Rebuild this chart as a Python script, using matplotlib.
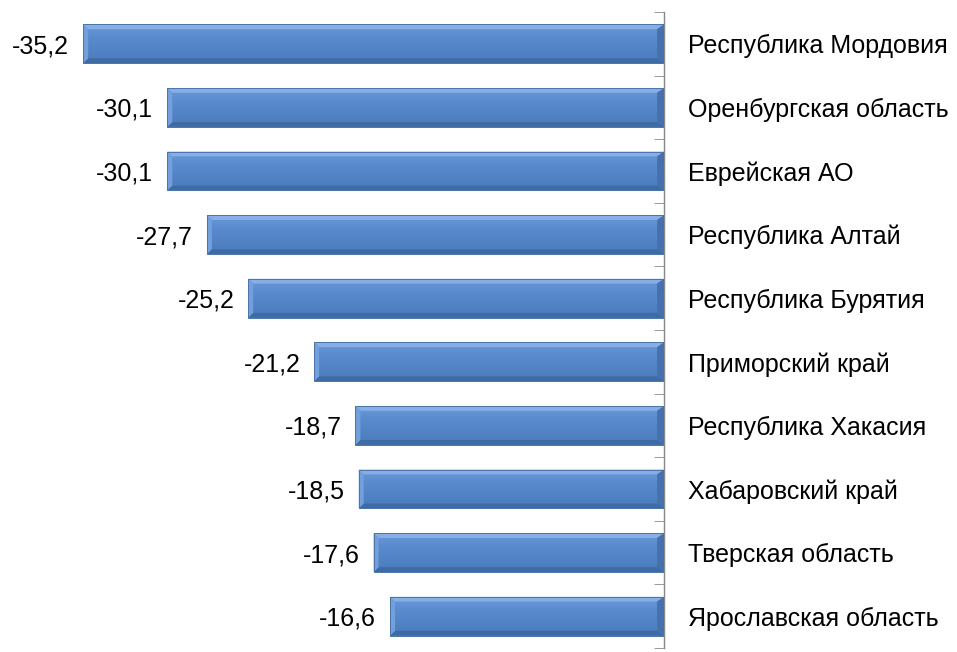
import numpy as np
import matplotlib.pyplot as plt
from matplotlib.patches import Polygon
from matplotlib.colors import LinearSegmentedColormap

regions = ['Республика Мордовия', 'Оренбургская область', 'Еврейская АО',
           'Республика Алтай', 'Республика Бурятия', 'Приморский край',
           'Республика Хакасия', 'Хабаровский край', 'Тверская область',
           'Ярославская область']
values = [-35.2, -30.1, -30.1, -27.7, -25.2, -21.2, -18.7, -18.5, -17.6, -16.6]
value_labels = ['-35,2', '-30,1', '-30,1', '-27,7', '-25,2', '-21,2', '-18,7',
                '-18,5', '-17,6', '-16,6']

plt.rcParams['font.family'] = ['Liberation Sans', 'DejaVu Sans']

def bevel(ax, x0, x1, yc, h, bl, br, by):
    # fake excel bevel: light top/left, dark bottom/right
    yt, yb = yc - h / 2, yc + h / 2   # inverted y: yt is top on screen
    out = [(x0, yt), (x1, yt), (x1, yb), (x0, yb)]
    inn = [(x0 + bl, yt + by), (x1 - br, yt + by), (x1 - br, yb - by), (x0 + bl, yb - by)]
    sides = [
        ([out[0], out[1], inn[1], inn[0]], '#86afe6'),  # top
        ([out[3], out[2], inn[2], inn[3]], '#3f6ba5'),  # bottom
        ([out[0], out[3], inn[3], inn[0]], '#72a0dc'),  # left
        ([out[1], out[2], inn[2], inn[1]], '#4572ae'),  # right
    ]
    for pts, c in sides:
        ax.add_patch(Polygon(pts, closed=True, facecolor=c, edgecolor='none', zorder=3))
    ax.add_patch(Polygon(out, closed=True, facecolor='none', edgecolor='#4a74aa', lw=0.7, zorder=4))

def run():
    y = np.arange(len(regions))
    fig = plt.figure(figsize=(9.57, 6.52), dpi=100)
    ax = fig.add_axes([4 / 957, 4 / 652, 660 / 957, 636 / 652])

    h = 0.61
    bars = ax.barh(y, values, height=h, color='#5686c8', edgecolor='none', zorder=2)

    # vertical gradient inside each bar
    grad = np.linspace(0, 1, 100).reshape(-1, 1)
    cmap = LinearSegmentedColormap.from_list('g', ['#6a98da', '#5b8bcf', '#5283c5', '#4a7bbd'])
    for b, v, yi in zip(bars, values, y):
        im = ax.imshow(grad, extent=(v, 0, yi + h / 2, yi - h / 2), cmap=cmap,
                       aspect='auto', zorder=2.5)
        im.set_clip_path(b)
        bevel(ax, v, 0, yi, h, 0.3, 0.42, 0.075)

    ax.set_xlim(-40, 0)
    ax.set_ylim(len(regions) - 0.5, -0.5)

    for v, yi, lab in zip(values, y, value_labels):
        ax.annotate(lab, (v, yi), xytext=(-10, 0), textcoords='offset points',
                    ha='right', va='center_baseline', fontsize=18)

    for s in ['top', 'bottom', 'left']:
        ax.spines[s].set_visible(False)
    ax.spines['right'].set_color('#888888')
    ax.spines['right'].set_linewidth(1)
    ax.set_xticks([])
    ax.yaxis.tick_right()
    ax.set_yticks(y)
    ax.set_yticklabels(regions, fontsize=18, va='center_baseline')
    ax.tick_params(axis='y', which='major', length=0, pad=17)
    ax.set_yticks(np.arange(len(regions) + 1) - 0.5, minor=True)
    ax.tick_params(axis='y', which='minor', length=7, direction='in', color='#888888', right=True)

    fig.savefig('out.png', dpi=100)

if __name__ == '__main__':
    run()
